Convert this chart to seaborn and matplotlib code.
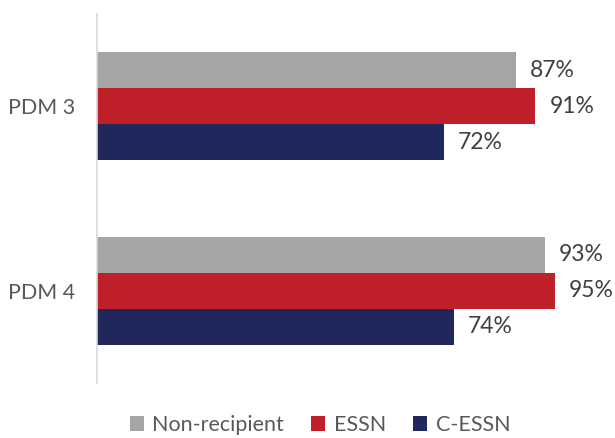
import matplotlib
matplotlib.use("Agg")
import matplotlib.pyplot as plt
import seaborn as sns
import pandas as pd
from matplotlib.patches import Patch

rounds = ["PDM 3", "PDM 4"]
groups = ["Non-recipient", "ESSN", "C-ESSN"]
non_recipient = [87, 93]
essn = [91, 95]
c_essn = [72, 74]
colors = ["#A5A5A5", "#C0202A", "#1F275B"]

df = pd.DataFrame({
    "round": rounds * 3,
    "group": [g for g in groups for _ in rounds],
    "value": non_recipient + essn + c_essn,
})

sns.set_theme(style="white")
plt.rcParams["font.family"] = ["Lato", "DejaVu Sans"]

fig = plt.figure(figsize=(6.15, 4.38), dpi=100)
ax = fig.add_axes([97 / 615, 1 - 383 / 438, (615 - 97) / 615, (383 - 14) / 438])

sns.barplot(data=df, y="round", x="value", hue="group", hue_order=groups,
            palette=colors, orient="h", width=0.585, dodge=True,
            saturation=1, errorbar=None, legend=False, linewidth=0, ax=ax)

ax.set_xlim(0, 107.5)
ax.set_ylim(1.5, -0.5)
ax.set_xlabel("")
ax.set_ylabel("")
ax.set_xticks([])
for s in ["top", "right", "bottom"]:
    ax.spines[s].set_visible(False)
ax.spines["left"].set_color("#D9D9D9")
ax.spines["left"].set_linewidth(1.2)
ax.tick_params(axis="y", length=0, pad=16, labelsize=15.5, labelcolor="#595959")

for cont in ax.containers:
    lbls = ax.bar_label(cont, labels=[f"{v:.0f}%" for v in cont.datavalues],
                        padding=10, fontsize=16.5, color="#404040")
    for t in lbls:
        t.set_verticalalignment("center")

handles = [Patch(facecolor=c, edgecolor="none") for c in colors]
fig.legend(handles, groups, loc="center", bbox_to_anchor=(320 / 615, 1 - 425 / 438),
           ncol=3, frameon=False, fontsize=15.5, labelcolor="#595959",
           handlelength=0.65, handleheight=0.65, handletextpad=0.4,
           columnspacing=1.25)

fig.savefig("out.png", dpi=100)
